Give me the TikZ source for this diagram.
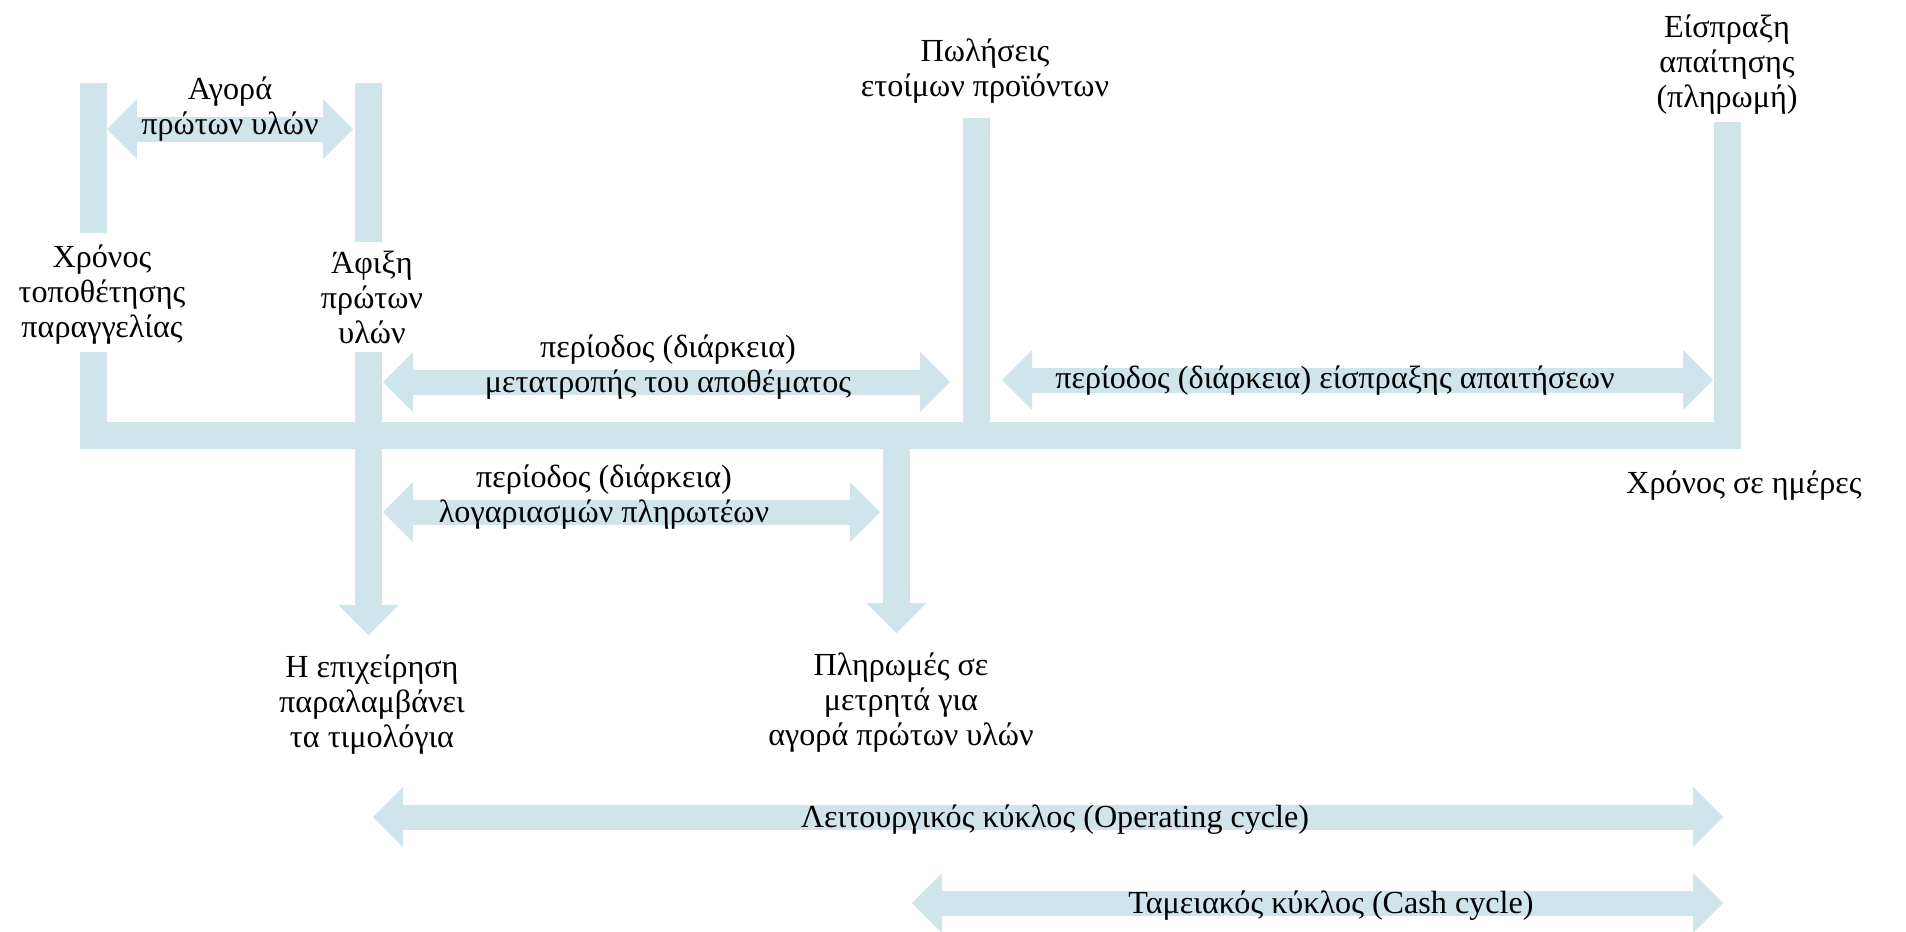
\documentclass[tikz,border=0pt]{standalone}
\usepackage{fontspec}
\setmainfont{Liberation Serif}
\usetikzlibrary{arrows.meta}
\definecolor{bandblue}{RGB}{208,229,235}
\tikzset{
  bandtip/.tip={Triangle[line width=0pt,length=0.6cm,width=1.2cm]},
  bar/.style={draw=bandblue,line width=0.54cm},
  span/.style={draw=bandblue,line width=0.5cm,bandtip-bandtip},
  drop/.style={bar,-bandtip},
  lbl/.style={align=center,inner sep=0pt,font=\fontsize{18.3}{19.9}\selectfont}
}
\begin{document}
\begin{tikzpicture}[x=0.02cm,y=-0.02cm]
\useasboundingbox (0,0) rectangle (1906,931);

% time axis and event bars
\coordinate (ordT) at (93.5,83);
\coordinate (ordM) at (93.5,233);
\coordinate (ordB) at (93.5,352);
\coordinate (axL) at (93.5,435);
\coordinate (axR) at (1727,435);
\coordinate (colT) at (1727,122);
\coordinate (arrT) at (368.5,83);
\coordinate (arrM) at (368.5,242);
\coordinate (arrB) at (368.5,352);
\coordinate (arrE) at (368.5,635);
\coordinate (saleT) at (976.5,118);
\coordinate (saleB) at (976.5,435);
\coordinate (payT) at (896.5,435);
\coordinate (payE) at (896.5,633);

\draw[bar] (ordT)--(ordM);
\draw[bar,line join=miter] (ordB)--(axL)--(axR)--(colT);
\draw[bar] (arrT)--(arrM);
\draw[drop] (arrB)--(arrE);
\draw[bar] (saleT)--(saleB);
\draw[drop] (payT)--(payE);

% periods
\coordinate (buyL) at (107,129);
\coordinate (buyR) at (353,129);
\coordinate (invL) at (383,382);
\coordinate (invR) at (950,382);
\coordinate (recL) at (1002,380);
\coordinate (recR) at (1713,380);
\coordinate (apL) at (383,512);
\coordinate (apR) at (880,512);
\coordinate (opL) at (373,817);
\coordinate (opR) at (1723,817);
\coordinate (ccL) at (912,903);
\coordinate (ccR) at (1723,903);

\draw[span] (buyL)--(buyR);
\draw[span] (invL)--(invR);
\draw[span] (recL)--(recR);
\draw[span] (apL)--(apR);
\draw[span] (opL)--(opR);
\draw[span] (ccL)--(ccR);

% labels
\node[lbl] (buy) at (230,109) {Αγορά\\πρώτων υλών};
\node[lbl] (order) at (102,295) {Χρόνος\\τοποθέτησης\\παραγγελίας};
\node[lbl] (arrival) at (372,297) {Άφιξη\\πρώτων\\υλών};
\node[lbl] (invper) at (668,367) {περίοδος (διάρκεια)\\μετατροπής του αποθέματος};
\node[lbl] (recper) at (1335,381) {περίοδος (διάρκεια) είσπραξης απαιτήσεων};
\node[lbl] (apper) at (604,497) {περίοδος (διάρκεια)\\λογαριασμών πληρωτέων};
\node[lbl] (sales) at (985,71) {Πωλήσεις\\ετοίμων προϊόντων};
\node[lbl] (collect) at (1727,65) {Είσπραξη\\απαίτησης\\(πληρωμή)};
\node[lbl] (days) at (1744,486) {Χρόνος σε ημέρες};
\node[lbl] (invoice) at (372,705) {Η επιχείρηση\\παραλαμβάνει\\τα τιμολόγια};
\node[lbl] (cashpay) at (901,703) {Πληρωμές σε\\μετρητά για\\αγορά πρώτων υλών};
\node[lbl] (opcyc) at (1055,820) {Λειτουργικός κύκλος (Operating cycle)};
\node[lbl] (cashcyc) at (1331,906) {Ταμειακός κύκλος (Cash cycle)};
\end{tikzpicture}
\end{document}
